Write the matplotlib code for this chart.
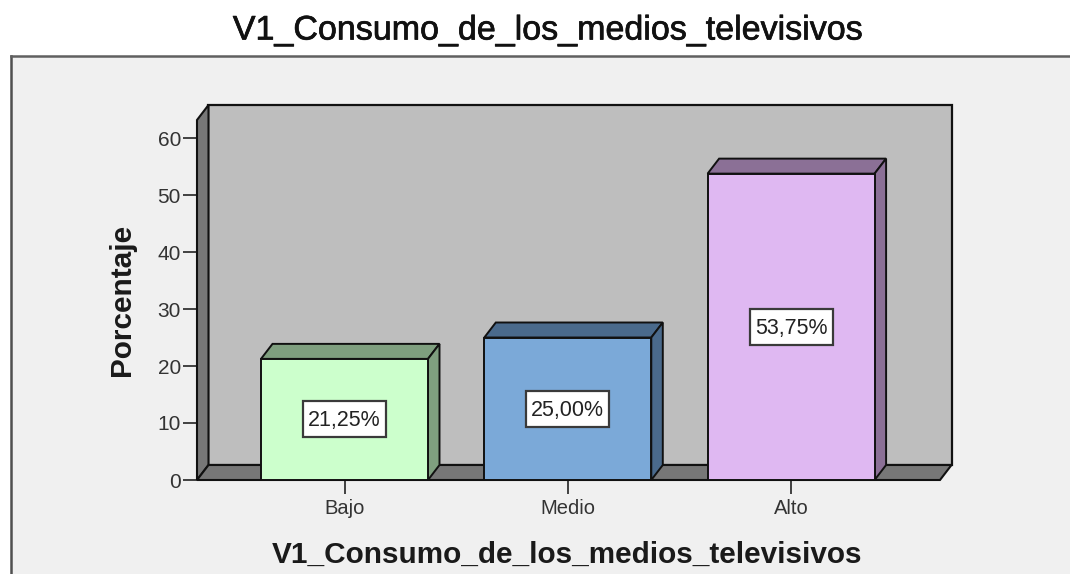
import matplotlib
matplotlib.use('Agg')
import matplotlib.pyplot as plt
import matplotlib.patheffects as pe
from matplotlib.patches import Polygon, Rectangle

plt.rcParams['font.family'] = ['Liberation Sans', 'DejaVu Sans']

# Data
categories = ['Bajo', 'Medio', 'Alto']
percentages = [21.25, 25.00, 53.75]
value_labels = ['21,25%', '25,00%', '53,75%']
y_ticks = [0, 10, 20, 30, 40, 50, 60]
front_colors = ['#ccffcc', '#7ba9d8', '#dfb8f2']
side_colors = ['#7f9f7f', '#4a6a8c', '#8b7096']
chart_title = 'V1_Consumo_de_los_medios_televisivos'

W, H = 1070, 574
fig = plt.figure(figsize=(W / 100, H / 100), dpi=100, facecolor='white')

# grey chart panel with border on top and left only
panel = Rectangle((11 / W, 0), 1, 1 - 56 / H, transform=fig.transFigure,
                  facecolor='#f0f0f0', edgecolor='none', zorder=-5)
fig.add_artist(panel)
fig.add_artist(plt.Line2D([11 / W, 11 / W], [0, 1 - 56 / H], color='#505050', lw=1.8))
fig.add_artist(plt.Line2D([11 / W, 1], [1 - 56 / H, 1 - 56 / H], color='#606060', lw=1.8))

fig.text(547.5 / W, 1 - 31 / H, chart_title, ha='center', va='center',
         fontsize=24.5, color='#111111',
         path_effects=[pe.withStroke(linewidth=0.5, foreground='#111111')])

# axes = the front plane of the 3D box
left, right, bottom, top = 197, 940, 480, 120
ax = fig.add_axes([left / W, 1 - bottom / H, (right - left) / W, (bottom - top) / H])
ax.patch.set_visible(False)
px_x = 223.3
px_y = 5.7
ax.set_xlim((left - 344.5) / px_x, (right - 344.5) / px_x)
ax.set_ylim(0, (bottom - top) / px_y)
for s in ax.spines.values():
    s.set_visible(False)

dx = 11.5 / px_x
dy = 15 / px_y
x0, x1 = ax.get_xlim()
y1 = ax.get_ylim()[1]
edge = '#111111'

def box(x_a, x_b, h, front, side, z, lw=1.4):
    # top and side faces go back by dx, dy
    ax.add_patch(Polygon([(x_a, h), (x_a + dx, h + dy), (x_b + dx, h + dy), (x_b, h)],
                         facecolor=side, edgecolor=edge, lw=lw, zorder=z, clip_on=False, joinstyle='miter'))
    ax.add_patch(Polygon([(x_b, 0), (x_b + dx, dy), (x_b + dx, h + dy), (x_b, h)],
                         facecolor=side, edgecolor=edge, lw=lw, zorder=z, clip_on=False, joinstyle='miter'))
    ax.add_patch(Rectangle((x_a, 0), x_b - x_a, h, facecolor=front, edgecolor=edge,
                           lw=lw, zorder=z + 0.1, clip_on=False))

# back wall, left wall, floor
ax.add_patch(Rectangle((x0 + dx, dy), x1 - x0, y1, facecolor='#bebebe', edgecolor=edge,
                       lw=1.6, zorder=1, clip_on=False))
ax.add_patch(Polygon([(x0, 0), (x0 + dx, dy), (x0 + dx, y1 + dy), (x0, y1)],
                     facecolor='#777777', edgecolor=edge, lw=1.5, zorder=2, clip_on=False))
ax.add_patch(Polygon([(x0, 0), (x0 + dx, dy), (x1 + dx, dy), (x1, 0)],
                     facecolor='#777777', edgecolor=edge, lw=1.5, zorder=2, clip_on=False))

bar_w = 167 / px_x
label_w = 83 / px_x
label_h = 36 / px_y
for i, v in enumerate(percentages):
    box(i - bar_w / 2, i + bar_w / 2, v, front_colors[i], side_colors[i], 3 + i)
    ax.add_patch(Rectangle((i - label_w / 2, v / 2 - label_h / 2), label_w, label_h, facecolor='white',
                           edgecolor='#3a3a3a', lw=1.6, zorder=10))
    ax.text(i, v / 2 - 1.5 / px_y, value_labels[i], ha='center', va='center', fontsize=15.5,
            color='#222222', zorder=11)

ax.set_xticks(range(len(categories)))
ax.set_xticklabels(categories, fontsize=14.5, color='#333333')
ax.set_yticks(y_ticks)
ax.set_yticklabels([str(t) for t in y_ticks], fontsize=15, color='#333333')
ax.tick_params(axis='x', length=10, width=1.3, color='#333333', pad=3.5)
ax.tick_params(axis='y', length=10, width=1.3, color='#333333', pad=1.5)

fig.text(567 / W, 1 - 555 / H, chart_title, ha='center', va='center',
         fontsize=21.4, fontweight='bold', color='#1a1a1a')
fig.text(122 / W, 1 - 300 / H, 'Porcentaje', ha='center', va='center', rotation=90,
         fontsize=21.4, fontweight='bold', color='#1a1a1a')

fig.savefig('out.png', dpi=100)
